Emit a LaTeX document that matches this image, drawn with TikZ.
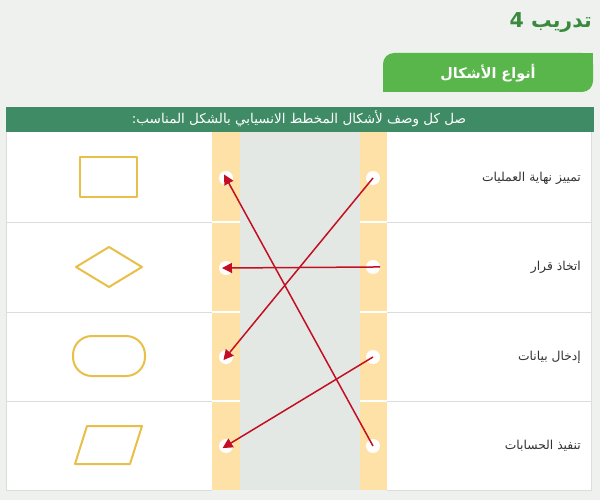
\documentclass[tikz,border=0pt]{standalone}
\usepackage{fontspec}
\TeXXeTstate=1
\newfontfamily\arabicfont[Script=Arabic]{DejaVu Sans}
\usetikzlibrary{arrows.meta}
\definecolor{bgc}{HTML}{EEF1EE}
\definecolor{titlegreen}{HTML}{3A8A3E}
\definecolor{tabgreen}{HTML}{58B64A}
\definecolor{headgreen}{HTML}{3E8B66}
\definecolor{peach}{HTML}{FDE1A6}
\definecolor{midgray}{HTML}{E3E8E5}
\definecolor{divgray}{HTML}{DADDDA}
\definecolor{shapeyellow}{HTML}{E8BF48}
\definecolor{arrowred}{HTML}{C20F22}
\definecolor{labelgray}{HTML}{333333}
\tikzset{
  shapeline/.style={draw=shapeyellow, line width=2pt, line join=round},
  dotnode/.style={circle, fill=white, minimum size=14pt, inner sep=0pt},
  lbl/.style={anchor=east, text=labelgray, font=\arabicfont\fontsize{12.3}{14}\selectfont, inner sep=0pt},
  arr/.style={draw=arrowred, line width=1.5pt, -{Triangle[length=10pt,width=10pt]}, shorten >=-4pt},
}
\begin{document}
\begin{tikzpicture}[x=1pt,y=-1pt]
\useasboundingbox (0,0) rectangle (600,500);
\fill[bgc] (0,0) rectangle (600,500);
% title
\node[anchor=east, text=titlegreen, font=\arabicfont\fontsize{20.5}{24}\selectfont\bfseries, inner sep=0pt] (title) at (592,23) {\beginR تدريب 4\endR};
% tab
\fill[tabgreen, rounded corners=11pt] (383,53) rectangle (593,92);
\fill[tabgreen] (578,53) rectangle (593,66);
\fill[tabgreen] (383,79) rectangle (398,92);
\node[text=white, font=\arabicfont\fontsize{14.4}{17}\selectfont\bfseries, inner sep=0pt] (tabtext) at (488,73) {\beginR أنواع الأشكال\endR};
% header bar
\fill[headgreen] (6,107) rectangle (594,132);
\node[text=white, font=\arabicfont\fontsize{13.5}{15}\selectfont, inner sep=0pt] (head) at (299,119) {\beginR صل كل وصف لأشكال المخطط الانسيابي بالشكل المناسب:\endR};
% table body
\fill[white] (6,132) rectangle (591,490);
\fill[midgray] (240,132) rectangle (360,490);
\fill[peach] (212,132) rectangle (240,490);
\fill[peach] (360,132) rectangle (387,490);
\draw[divgray, line width=0.8pt] (6,132) -- (6,490) -- (212,490);
\draw[divgray, line width=0.8pt] (387,490) -- (591,490) -- (591,132);
\foreach \yy in {222,312,401} {
  \draw[divgray, line width=0.8pt] (6,\yy) -- (212,\yy);
  \draw[divgray, line width=0.8pt] (387,\yy) -- (591,\yy);
  \draw[white, line width=2pt] (212,\yy) -- (240,\yy);
  \draw[white, line width=2pt] (360,\yy) -- (387,\yy);
}
% shapes
\node[shapeline, rectangle, minimum width=57pt, minimum height=40pt, inner sep=0pt] (srect) at (108.5,177) {};
\coordinate (sdia) at (109,267);
\draw[shapeline] (76,267) -- (109,247) -- (142,267) -- (109,287) -- cycle;
\node[shapeline, rectangle, rounded corners=19pt, minimum width=72pt, minimum height=40pt, inner sep=0pt] (sterm) at (109,356) {};
\coordinate (spar) at (108,445);
\draw[shapeline] (75,464) -- (87,426) -- (142,426) -- (130,464) -- cycle;
% labels
\node[lbl] (t1) at (581,178) {\beginR تمييز نهاية العمليات\endR};
\node[lbl] (t2) at (581,267) {\beginR اتخاذ قرار\endR};
\node[lbl] (t3) at (581,357) {\beginR إدخال بيانات\endR};
\node[lbl] (t4) at (581,446) {\beginR تنفيذ الحسابات\endR};
% dots
\node[dotnode] (l1) at (226,178) {};
\node[dotnode] (l2) at (226,268) {};
\node[dotnode] (l3) at (226,357) {};
\node[dotnode] (l4) at (226,446) {};
\node[dotnode] (r1) at (373,178) {};
\node[dotnode] (r2) at (373,267) {};
\node[dotnode] (r3) at (373,357) {};
\node[dotnode] (r4) at (373,446) {};
% arrows
\draw[arr] (r1.center) -- (l3.center);
\draw[arr, shorten <=-7pt] (r2.center) -- (l2.center);
\draw[arr] (r3.center) -- (l4.center);
\draw[arr] (r4.center) -- (l1.center);
\end{tikzpicture}
\end{document}
